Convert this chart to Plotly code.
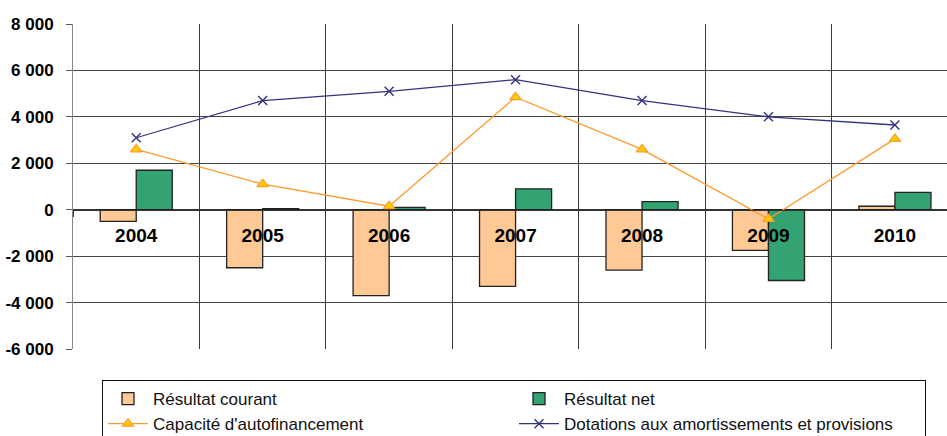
import plotly.graph_objects as go

years = ["2004", "2005", "2006", "2007", "2008", "2009", "2010"]
resultat_courant = [-500, -2500, -3700, -3300, -2600, -1750, 150]
resultat_net = [1700, 50, 100, 900, 350, -3050, 750]
capacite_autofinancement = [2600, 1100, 150, 4850, 2600, -400, 3050]
dotations = [3100, 4700, 5100, 5600, 4700, 4000, 3650]

y_tick_vals = [-6000, -4000, -2000, 0, 2000, 4000, 6000, 8000]
y_tick_text = ["-6 000", "-4 000", "-2 000", "0", "2 000", "4 000", "6 000", "8 000"]

W, H = 947, 436
ML, MR, MT, MB = 73, 0, 24, 87
y_min, y_max = -6000, 8000

fig = go.Figure()
fig.add_trace(go.Bar(
    x=years, y=resultat_courant, name="Résultat courant",
    marker=dict(color="#FFC996", line=dict(color="#222222", width=1.3)),
))
fig.add_trace(go.Bar(
    x=years, y=resultat_net, name="Résultat net",
    marker=dict(color="#33A372", line=dict(color="#222222", width=1.3)),
))
fig.add_trace(go.Scatter(
    x=years, y=capacite_autofinancement, name="Capacité d'autofinancement",
    mode="lines+markers",
    line=dict(color="#FF9A2E", width=1.3),
    marker=dict(symbol="triangle-up", size=10, color="#FFCC00",
                line=dict(color="#FF9A2E", width=1.2)),
))
fig.add_trace(go.Scatter(
    x=years, y=dotations, name="Dotations aux amortissements et provisions",
    mode="lines+markers",
    line=dict(color="#33337F", width=1.3),
    marker=dict(symbol="x-thin", size=9, color="#33337F",
                line=dict(color="#33337F", width=1.4)),
))

zero_pos = (0 - y_min) / (y_max - y_min)
cat_px = 126.45
plot_w = W - ML - MR
x_hi = -0.5 + plot_w / cat_px

label_font = "Liberation Sans Narrow, Liberation Sans, Arial, sans-serif"

fig.update_layout(
    width=W, height=H,
    margin=dict(l=ML, r=MR, t=MT, b=MB, autoexpand=False),
    paper_bgcolor="white", plot_bgcolor="white",
    barmode="group", bargap=0.43, bargroupgap=0,
    showlegend=True,
    legend=dict(
        orientation="h",
        xref="container", yref="container",
        x=102 / W, y=1 - 380 / H, xanchor="left", yanchor="top",
        bordercolor="#111111", borderwidth=1, bgcolor="white",
        font=dict(family="Liberation Sans", size=17, color="#111111"),
        entrywidth=356, entrywidthmode="pixels",
        itemwidth=40, tracegroupgap=0,
        traceorder="normal",
    ),
    xaxis=dict(
        type="category", range=[-0.5, x_hi],
        anchor="free", position=zero_pos,
        tickson="boundaries", ticks="outside", ticklen=6, tickcolor="#333333",
        showgrid=True, gridcolor="#3a3a3a", gridwidth=1,
        showline=True, linecolor="#333333", linewidth=1,
        tickfont=dict(family=label_font, size=19, color="black", weight="bold"),
        ticklabelstandoff=8,
    ),
    yaxis=dict(
        range=[y_min, y_max], tickvals=y_tick_vals, ticktext=y_tick_text,
        showgrid=True, gridcolor="#444444", gridwidth=1,
        zeroline=True, zerolinecolor="#333333", zerolinewidth=1,
        showline=True, linecolor="#888888", linewidth=1,
        ticks="outside", ticklen=6, tickcolor="#555555",
        tickfont=dict(family=label_font, size=17, color="black", weight="bold"),
        ticklabelstandoff=9,
    ),
)

fig.write_html("out.html")
